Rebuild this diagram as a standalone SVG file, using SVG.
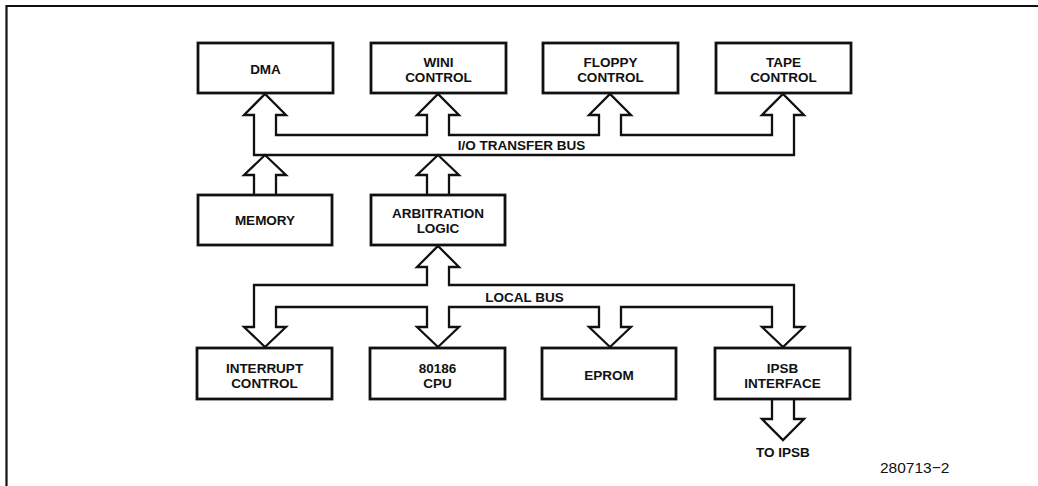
<svg xmlns="http://www.w3.org/2000/svg" width="1038" height="486" viewBox="0 0 1038 486">
<style>
.box{fill:#fff;stroke:#111;stroke-width:2.8}
.bus{fill:#fff;stroke:#111;stroke-width:2.3;stroke-linejoin:miter}
.arr{fill:#fff;stroke:#111;stroke-width:2.3;stroke-linejoin:miter}
.lbl{font-family:"Liberation Sans",Arial,sans-serif;font-weight:bold;font-size:13.5px;fill:#111;text-anchor:middle}
.num{font-family:"Liberation Sans",Arial,sans-serif;font-size:15.5px;fill:#111}
</style>
<rect width="1038" height="486" fill="#fff"/>
<path d="M6.5,486 V6 H1038" fill="none" stroke="#111" stroke-width="2.2"/>

<g id="connectors">
  <path class="bus" d="M254,155 V115 H244 L265,94 L286,115 H276 V135 H427 V115 H417 L438,94 L459,115 H449 V135 H599 V115 H589 L610,94 L631,115 H621 V135 H772 V115 H762 L783,94 L804,115 H794 V155 Z"/>
  <path class="arr" d="M254,195 V175 H244 L265,155 L286,175 H276 V195"/>
  <path class="arr" d="M427,195 V175 H417 L438,155 L459,175 H449 V195"/>
  <path class="bus" d="M438,246 L459,267 H449 V285 H794 V327 H804 L783,347 L762,327 H772 V307 H621 V327 H631 L610,347 L589,327 H599 V307 H449 V327 H459 L438,347 L417,327 H427 V307 H276 V327 H286 L265,347 L244,327 H254 V285 H427 V267 H417 Z"/>
  <path class="arr" d="M772,399 V419 H762 L783,440 L804,419 H794 V399"/>
</g>

<g id="dma"><rect class="box" x="198" y="43" width="135" height="50"/><text class="lbl" x="265.5" y="73.5">DMA</text></g>
<g id="wini"><rect class="box" x="371" y="43" width="135" height="50"/><text class="lbl" x="438.5" y="66.5">WINI</text><text class="lbl" x="438.5" y="82">CONTROL</text></g>
<g id="floppy"><rect class="box" x="543" y="43" width="135" height="50"/><text class="lbl" x="610.5" y="66.5">FLOPPY</text><text class="lbl" x="610.5" y="82">CONTROL</text></g>
<g id="tape"><rect class="box" x="716" y="43" width="135" height="50"/><text class="lbl" x="783.5" y="66.5">TAPE</text><text class="lbl" x="783.5" y="82">CONTROL</text></g>

<g id="memory"><rect class="box" x="198" y="195" width="134" height="50"/><text class="lbl" x="265" y="225">MEMORY</text></g>
<g id="arbitration"><rect class="box" x="371" y="195" width="134" height="50"/><text class="lbl" x="438" y="218">ARBITRATION</text><text class="lbl" x="438" y="233">LOGIC</text></g>

<g id="interrupt"><rect class="box" x="197" y="348" width="135" height="51"/><text class="lbl" x="264.5" y="372.5">INTERRUPT</text><text class="lbl" x="264.5" y="387.5">CONTROL</text></g>
<g id="cpu"><rect class="box" x="370" y="348" width="135" height="51"/><text class="lbl" x="437.5" y="372.5">80186</text><text class="lbl" x="437.5" y="387.5">CPU</text></g>
<g id="eprom"><rect class="box" x="542" y="348" width="134" height="51"/><text class="lbl" x="609" y="380">EPROM</text></g>
<g id="ipsb"><rect class="box" x="715" y="348" width="135" height="51"/><text class="lbl" x="782.5" y="372.5">IPSB</text><text class="lbl" x="782.5" y="387.5">INTERFACE</text></g>

<g id="labels">
  <text class="lbl" x="521.5" y="150">I/O TRANSFER BUS</text>
  <text class="lbl" x="524.5" y="302">LOCAL BUS</text>
  <text class="lbl" x="783" y="457">TO IPSB</text>
  <text class="num" x="880" y="473">280713−2</text>
</g>
</svg>
